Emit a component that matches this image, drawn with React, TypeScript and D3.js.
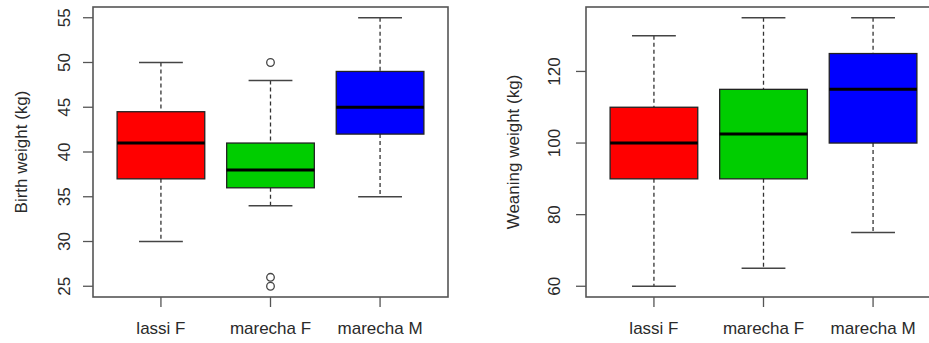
import React from "react";
import * as d3 from "d3";

const categories = ["lassi F", "marecha F", "marecha M"];
const boxColors = ["#FF0000", "#00CD00", "#0000FF"];

const birthLow = [30, 34, 35];
const birthQ1 = [37, 36, 42];
const birthMed = [41, 38, 45];
const birthQ3 = [44.5, 41, 49];
const birthHigh = [50, 48, 55];
const birthOutliers = [[], [50, 26, 25], []];
const birthTicks = [25, 30, 35, 40, 45, 50, 55];

const weanLow = [60, 65, 75];
const weanQ1 = [90, 90, 100];
const weanMed = [100, 102.5, 115];
const weanQ3 = [110, 115, 125];
const weanHigh = [130, 135, 135];
const weanOutliers: number[][] = [[], [], []];
const weanTicks = [60, 80, 100, 120];

const FONT = "'Liberation Sans', Arial, sans-serif";
const TXT = "#2a2a2a";
const AX = "#555";

type PanelProps = {
  x0: number; x1: number; y0: number; y1: number;
  low: number[]; q1: number[]; med: number[]; q3: number[]; high: number[]; outliers: number[][];
  ticks: number[]; title: string; tickLabelX: number; titleX: number;
};

function Panel(p: PanelProps) {
  const all = [...p.low, ...p.high, ...p.outliers.flat()];
  const mn = d3.min(all)!, mx = d3.max(all)!;
  const ext = (mx - mn) * 0.04;
  const y = d3.scaleLinear().domain([mn - ext, mx + ext]).range([p.y1, p.y0]);
  const x = d3.scaleLinear().domain([0.38, 3.62]).range([p.x0, p.x1]);
  const u = x(1) - x(0);
  return (
    <g>
      {categories.map((c, i) => {
        const cx = x(i + 1);
        const hw = 0.4 * u;
        const cw = 0.2 * u;
        return (
          <g key={c}>
            <line x1={cx} x2={cx} y1={y(p.high[i])} y2={y(p.q3[i])} stroke="#333" strokeWidth={1.3} strokeDasharray="4,3" />
            <line x1={cx} x2={cx} y1={y(p.q1[i])} y2={y(p.low[i])} stroke="#333" strokeWidth={1.3} strokeDasharray="4,3" />
            <line x1={cx - cw} x2={cx + cw} y1={y(p.high[i])} y2={y(p.high[i])} stroke="#444" strokeWidth={1.5} />
            <line x1={cx - cw} x2={cx + cw} y1={y(p.low[i])} y2={y(p.low[i])} stroke="#444" strokeWidth={1.5} />
            <rect x={cx - hw} y={y(p.q3[i])} width={2 * hw} height={y(p.q1[i]) - y(p.q3[i])} fill={boxColors[i]} stroke="#222" strokeWidth={1.3} />
            <line x1={cx - hw} x2={cx + hw} y1={y(p.med[i])} y2={y(p.med[i])} stroke="#000" strokeWidth={3} />
            {p.outliers[i].map((v, k) => (
              <circle key={k} cx={cx} cy={y(v)} r={3.8} fill="none" stroke="#444" strokeWidth={1.3} />
            ))}
            <line x1={cx} x2={cx} y1={p.y1} y2={p.y1 + 10} stroke={AX} strokeWidth={1.3} />
            <text x={cx} y={p.y1 + 37} textAnchor="middle" fontFamily={FONT} fontSize={17} fill={TXT}>{c}</text>
          </g>
        );
      })}
      <rect x={p.x0} y={p.y0} width={p.x1 - p.x0} height={p.y1 - p.y0} fill="none" stroke={AX} strokeWidth={1.6} />
      {p.ticks.map((t) => (
        <g key={t}>
          <line x1={p.x0 - 10} x2={p.x0} y1={y(t)} y2={y(t)} stroke={AX} strokeWidth={1.3} />
          <text transform={`translate(${p.tickLabelX},${y(t)}) rotate(-90)`} dy="0.35em" textAnchor="middle" fontFamily={FONT} fontSize={17} fill={TXT}>{t}</text>
        </g>
      ))}
      <text transform={`translate(${p.titleX},${(p.y0 + p.y1) / 2}) rotate(-90)`} dy="0.35em" textAnchor="middle" fontFamily={FONT} fontSize={17} fill={TXT}>{p.title}</text>
    </g>
  );
}

export default function App() {
  return (
    <svg width={929} height={343} style={{ position: "absolute", left: 0, top: 0, background: "#fff" }}>
      <rect width={929} height={343} fill="#fff" />
      <Panel x0={93} x1={448} y0={7} y1={297} low={birthLow} q1={birthQ1} med={birthMed} q3={birthQ3} high={birthHigh} outliers={birthOutliers} ticks={birthTicks} title="Birth weight (kg)" tickLabelX={64} titleX={21} />
      <Panel x0={586} x1={941} y0={7} y1={297} low={weanLow} q1={weanQ1} med={weanMed} q3={weanQ3} high={weanHigh} outliers={weanOutliers} ticks={weanTicks} title="Weaning weight (kg)" tickLabelX={554} titleX={513} />
    </svg>
  );
}
